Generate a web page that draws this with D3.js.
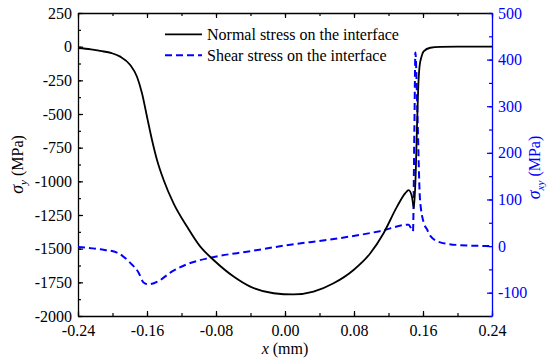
<!DOCTYPE html>
<html>
<head>
<meta charset="utf-8">
<script src="https://cdn.jsdelivr.net/npm/d3@7"></script>
<style>
  body { margin: 0; background: #fff; }
  svg, svg text { font-family: "Liberation Serif", "Times New Roman", "DejaVu Serif", serif; }
</style>
</head>
<body>
<div id="chart"></div>
<script>
var serif = "'Liberation Serif', 'Times New Roman', 'DejaVu Serif', serif";

// Normal stress on the interface (left axis, MPa)
var normalX = [-0.24, -0.225, -0.214, -0.201, -0.191, -0.1794, -0.1716, -0.1658, -0.160, -0.1542, -0.1484, -0.1407,
               -0.1292, -0.1136, -0.0982, -0.0828, -0.0596, -0.0402, -0.0132, 0.0099, 0.0331, 0.0563, 0.0795,
               0.0989, 0.1143, 0.1299, 0.1395, 0.1433, 0.1472, 0.1495, 0.1515, 0.1530, 0.1545, 0.156, 0.1585,
               0.1607, 0.1685, 0.18, 0.20, 0.24];
var normalY = [-10, -20, -32, -48, -74, -136, -223, -346, -520, -693, -841, -990,
               -1163, -1336, -1485, -1584, -1707, -1782, -1831, -1840, -1819, -1757, -1658,
               -1534, -1385, -1188, -1088, -1065, -1114, -1200, -950, -600, -300, -146, -70,
               -35, -8, -2, 0, 0];

// Shear stress on the interface (right axis, MPa)
var shearX = [-0.24, -0.214, -0.1948, -0.1794, -0.1697, -0.164, -0.1582, -0.1465, -0.133, -0.1136, -0.0866,
              -0.0402, 0.0062, 0.0525, 0.110, 0.1433, 0.1484, 0.1500, 0.1512, 0.1535, 0.1565, 0.1607, 0.1646,
              0.1685, 0.18, 0.2034, 0.24];
var shearY = [-2, -7, -14, -36, -57, -78, -82, -75, -57, -39, -25,
              -11, 3, 14, 32, 46, 32, 250, 415, 286, 101, 51, 36,
              22, 8, 2, 0];

var xTicks = [-0.24, -0.16, -0.08, 0, 0.08, 0.16, 0.24];
var leftTicks = [250, 0, -250, -500, -750, -1000, -1250, -1500, -1750, -2000];
var rightTicks = [-100, 0, 100, 200, 300, 400, 500];

const margin = {top: 13, right: 58, bottom: 45, left: 78},
    width = 550 - margin.left - margin.right,
    height = 361 - margin.top - margin.bottom;

var normalData = normalX.map((x, i) => ({x: x, y: normalY[i]}));
var shearData = shearX.map((x, i) => ({x: x, y: shearY[i]}));

var xScale = d3.scaleLinear().domain([-0.24, 0.24]).range([0, width]);
var yLeft = d3.scaleLinear().domain([-2000, 250]).range([height, 0]);
var yRight = d3.scaleLinear().domain([-150, 500]).range([height, 0]);

var svg = d3.select("#chart").append("svg")
    .attr("width", 550)
    .attr("height", 361)
    .attr("font-family", serif)
    .append("g")
    .attr("transform", "translate(" + margin.left + "," + margin.top + ")");

// minor ticks
var xMinor = d3.range(-0.24, 0.2401, 0.04);
var leftMinor = d3.range(-2000, 251, 125);
var rightMinor = d3.range(-150, 501, 50);

function styleAxis(g, color) {
    g.attr("font-family", serif).attr("font-size", 16);
    g.selectAll("path").attr("stroke", color).attr("stroke-width", 1.3);
    g.selectAll("line").attr("stroke", color).attr("stroke-width", 1.2);
    g.selectAll("text").attr("fill", color).style("font-size", "16px")
        .style("font-family", serif);
}

// bottom
svg.append("g")
    .attr("transform", "translate(0," + height + ")")
    .call(d3.axisBottom(xScale).tickValues(xMinor).tickFormat("").tickSize(-3).tickSizeOuter(0))
    .call(g => styleAxis(g, "#000"));
svg.append("g")
    .attr("transform", "translate(0," + height + ")")
    .call(d3.axisBottom(xScale).tickValues(xTicks).tickFormat(d3.format(".2f")).tickSize(-5).tickSizeOuter(0).tickPadding(8.5))
    .call(g => styleAxis(g, "#000"))
    .call(g => g.select(".domain").remove());

// top
svg.append("g")
    .call(d3.axisTop(xScale).tickValues(xMinor).tickFormat("").tickSize(-3).tickSizeOuter(0))
    .call(g => styleAxis(g, "#000"));
svg.append("g")
    .call(d3.axisTop(xScale).tickValues(xTicks).tickFormat("").tickSize(-5).tickSizeOuter(0))
    .call(g => styleAxis(g, "#000"))
    .call(g => g.select(".domain").remove());

// left
svg.append("g")
    .call(d3.axisLeft(yLeft).tickValues(leftMinor).tickFormat("").tickSize(-3).tickSizeOuter(0))
    .call(g => styleAxis(g, "#000"));
svg.append("g")
    .call(d3.axisLeft(yLeft).tickValues(leftTicks).tickFormat(d3.format("d")).tickSize(-5).tickSizeOuter(0).tickPadding(6))
    .call(g => styleAxis(g, "#000"))
    .call(g => g.select(".domain").remove());

// right
svg.append("g")
    .attr("transform", "translate(" + width + ",0)")
    .call(d3.axisRight(yRight).tickValues(rightMinor).tickFormat("").tickSize(-3).tickSizeOuter(0))
    .call(g => styleAxis(g, "#0000ff"));
svg.append("g")
    .attr("transform", "translate(" + width + ",0)")
    .call(d3.axisRight(yRight).tickValues(rightTicks).tickFormat(d3.format("d")).tickSize(-5).tickSizeOuter(0).tickPadding(6))
    .call(g => styleAxis(g, "#0000ff"))
    .call(g => g.select(".domain").remove());

// hyphen minus signs like the original
svg.selectAll(".tick text").text(function() { return d3.select(this).text().replace("\u2212", "-"); });

// lines
var normalLine = d3.line()
    .x(d => xScale(d.x))
    .y(d => yLeft(d.y))
    .curve(d3.curveMonotoneX);

var shearLine = d3.line()
    .x(d => xScale(d.x))
    .y(d => yRight(d.y))
    .curve(d3.curveMonotoneX);

svg.append("path")
    .datum(shearData)
    .attr("fill", "none")
    .attr("stroke", "#0000ff")
    .attr("stroke-width", 2)
    .attr("stroke-dasharray", "7,4")
    .attr("d", shearLine);

svg.append("path")
    .datum(normalData)
    .attr("fill", "none")
    .attr("stroke", "#000")
    .attr("stroke-width", 1.8)
    .attr("d", normalLine);

// legend
var legend = svg.append("g").attr("transform", "translate(" + (165 - margin.left) + "," + (34.3 - margin.top) + ")");
legend.append("line").attr("x1", 0).attr("x2", 37).attr("y1", 0).attr("y2", 0)
    .attr("stroke", "#000").attr("stroke-width", 1.8);
legend.append("text").attr("x", 42).attr("y", 6).style("font-size", "16px").style("font-family", serif)
    .text("Normal stress on the interface");
legend.append("line").attr("x1", 0).attr("x2", 37).attr("y1", 21).attr("y2", 21)
    .attr("stroke", "#0000ff").attr("stroke-width", 2).attr("stroke-dasharray", "7,4");
legend.append("text").attr("x", 42).attr("y", 27).style("font-size", "16px").style("font-family", serif)
    .text("Shear stress on the interface");

// axis titles
var xt = svg.append("text")
    .attr("x", width / 2)
    .attr("y", 354 - margin.top)
    .attr("text-anchor", "middle")
    .style("font-family", serif)
    .style("font-size", "16px");
xt.append("tspan").style("font-style", "italic").text("x");
xt.append("tspan").text(" (mm)");

var yt = svg.append("text")
    .attr("transform", "translate(" + (23 - margin.left) + "," + (height / 2) + ") rotate(-90)")
    .attr("text-anchor", "middle")
    .style("font-family", serif)
    .style("font-size", "16px");
yt.append("tspan").style("font-style", "italic").style("font-size", "18px").text("\u03c3");
yt.append("tspan").style("font-style", "italic").style("font-size", "11px").attr("dy", 4).text("y");
yt.append("tspan").attr("dy", -4).text(" (MPa)");

var yr = svg.append("text")
    .attr("transform", "translate(" + (540 - margin.left) + "," + (height / 2 + 3) + ") rotate(-90)")
    .attr("text-anchor", "middle")
    .attr("fill", "#0000ff")
    .style("font-family", serif)
    .style("font-size", "16px");
yr.append("tspan").style("font-style", "italic").style("font-size", "18px").text("\u03c3");
yr.append("tspan").style("font-style", "italic").style("font-size", "11px").attr("dy", 4).text("xy");
yr.append("tspan").attr("dy", -4).text(" (MPa)");
</script>
</body>
</html>
